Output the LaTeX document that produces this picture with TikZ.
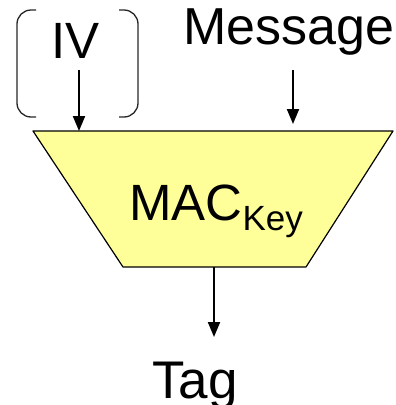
\documentclass[tikz,border=0pt]{standalone}
\usepackage{fontspec}
\setmainfont{Liberation Sans}
\usetikzlibrary{arrows.meta}
\definecolor{macfill}{RGB}{255,255,153}
\tikzset{
  big/.style={font=\fontsize{51}{60}\selectfont, inner sep=0pt, anchor=base west},
  feed/.style={line width=2pt, -{Triangle[length=15pt,width=12pt]}},
  brace/.style={line width=1.3pt, draw=black!85, rounded corners=14pt},
  box/.style={draw=black, line width=1.2pt, fill=macfill, line join=round}
}
\begin{document}
\begin{tikzpicture}[x=1pt,y=-1pt]
\useasboundingbox (0,0) rectangle (396,405);

% MAC block (inverted trapezoid)
\coordinate (tl) at (33,131);
\coordinate (tr) at (393,131);
\coordinate (br) at (306,267);
\coordinate (bl) at (123,267);
\draw[box] (tl) -- (tr) -- (br) -- (bl) -- cycle;
\node[big] (mac) at (129,220) {MAC\raisebox{-10pt}{\fontsize{35}{42}\selectfont Key}};

% inputs
\node[big] (iv) at (51,58) {IV};
\node[big, font=\fontsize{52}{62}\selectfont] (msg) at (183,44) {Message};
\draw[brace] (36,10) -- (17,10) -- (17,117) -- (36,117);
\draw[brace] (119,10) -- (138,10) -- (138,117) -- (119,117);

\coordinate (ivTop) at (79,70);
\coordinate (ivIn) at (79,131);
\coordinate (msgTop) at (293,70);
\coordinate (msgIn) at (293,124);
\draw[feed] (ivTop) -- (ivIn);
\draw[feed] (msgTop) -- (msgIn);

% output
\node[big, font=\fontsize{53}{62}\selectfont] (tag) at (152,398) {Tag};
\coordinate (tagOut) at (214,267);
\coordinate (tagEnd) at (214,337);
\draw[feed] (tagOut) -- (tagEnd);
\end{tikzpicture}
\end{document}
